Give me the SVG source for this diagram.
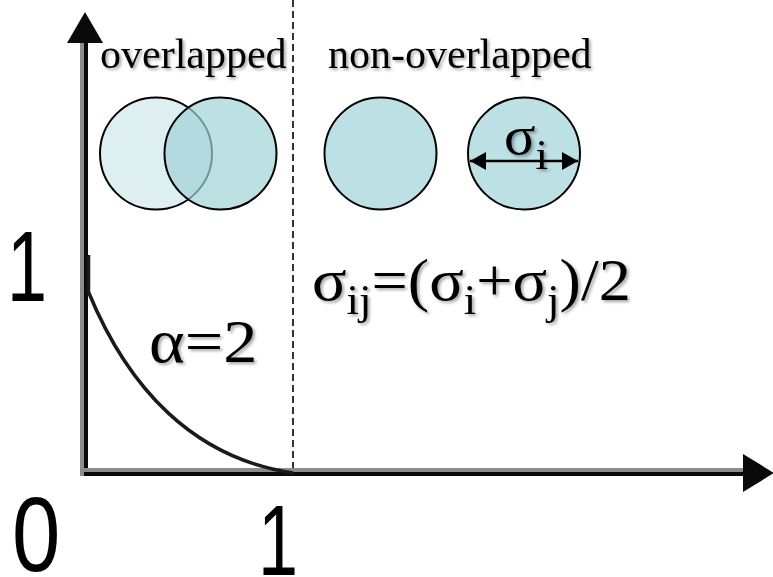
<svg xmlns="http://www.w3.org/2000/svg" width="773" height="577" viewBox="0 0 773 577">
<defs>
<filter id="sh" x="-10%" y="-10%" width="130%" height="140%">
<feDropShadow dx="2" dy="2" stdDeviation="1.5" flood-color="#000" flood-opacity="0.35"/>
</filter>
<marker id="ah" viewBox="0 0 16 18" refX="16" refY="9" markerWidth="16" markerHeight="18" markerUnits="userSpaceOnUse" orient="auto-start-reverse">
<path d="M0,0 L16,9 L0,18 Z" fill="#000"/>
</marker>
</defs>
<style>
.serif{font-family:"Liberation Serif","Times New Roman",serif;fill:#000}
.sans{font-family:"Liberation Sans",Arial,sans-serif;fill:#000}
.circ{stroke:#000;stroke-width:2}
.ax{fill:none;stroke-width:4}
</style>
<rect width="773" height="577" fill="#fff"/>

<g id="dashed-divider">
<line x1="293" y1="0" x2="293" y2="476" stroke="#000" stroke-width="1.6" stroke-dasharray="7,4"/>
</g>

<g id="axes">
<line class="ax" x1="82" y1="40" x2="82" y2="476" stroke="#8c8c8c"/>
<line class="ax" x1="86" y1="40" x2="86" y2="476" stroke="#0a0a0a"/>
<line class="ax" x1="84" y1="470" x2="745" y2="470" stroke="#8c8c8c"/>
<line class="ax" x1="84" y1="474" x2="745" y2="474" stroke="#0a0a0a"/>
<path d="M85,12 L103,43 L67,43 Z" fill="#0a0a0a"/>
<path d="M774,473 L743,454 L743,492 Z" fill="#0a0a0a"/>
</g>

<g id="curve">
<path d="M88.5,255 L88.5,292 C128,388 193,458 293,473" fill="none" stroke="#1a1a1a" stroke-width="3.5"/>
</g>

<g id="overlapped-circles">
<circle class="circ" cx="156" cy="153.5" r="56" fill="#ddeff1"/>
<circle class="circ" cx="220.5" cy="153.5" r="56" fill="#a1d3d7" fill-opacity="0.7"/>
</g>

<g id="circle-plain">
<circle class="circ" cx="380.5" cy="153.5" r="56" fill="#bce0e3"/>
</g>

<g id="circle-sigma">
<circle class="circ" cx="524" cy="153.5" r="56" fill="#bce0e3"/>
<line x1="470" y1="161" x2="578" y2="161" stroke="#000" stroke-width="2.5" marker-start="url(#ah)" marker-end="url(#ah)"/>
<text class="serif" transform="translate(504,154) scale(1.08,1)" font-size="54" filter="url(#sh)">σ<tspan font-size="42" dy="15">i</tspan></text>
</g>

<g id="labels">
<text class="serif" x="100" y="68" font-size="42" filter="url(#sh)">overlapped</text>
<text class="serif" x="328" y="68" font-size="42" filter="url(#sh)">non-overlapped</text>
<text class="serif" transform="translate(149,362) scale(1.1,1)" font-size="62" filter="url(#sh)">α=2</text>
<text class="serif" transform="translate(312,300) scale(1.07,1)" font-size="60" filter="url(#sh)">σ<tspan font-size="42" dy="14">ij</tspan><tspan dy="-14">=(σ</tspan><tspan font-size="42" dy="14">i</tspan><tspan dy="-14">+σ</tspan><tspan font-size="42" dy="14">j</tspan><tspan dy="-14">)/2</tspan></text>
<text class="sans" transform="translate(7,301) scale(0.72,1)" font-size="100">1</text>
<text class="sans" transform="translate(12,571) scale(0.82,1)" font-size="106">0</text>
<text class="sans" transform="translate(258,575) scale(0.72,1)" font-size="100">1</text>
</g>
</svg>
